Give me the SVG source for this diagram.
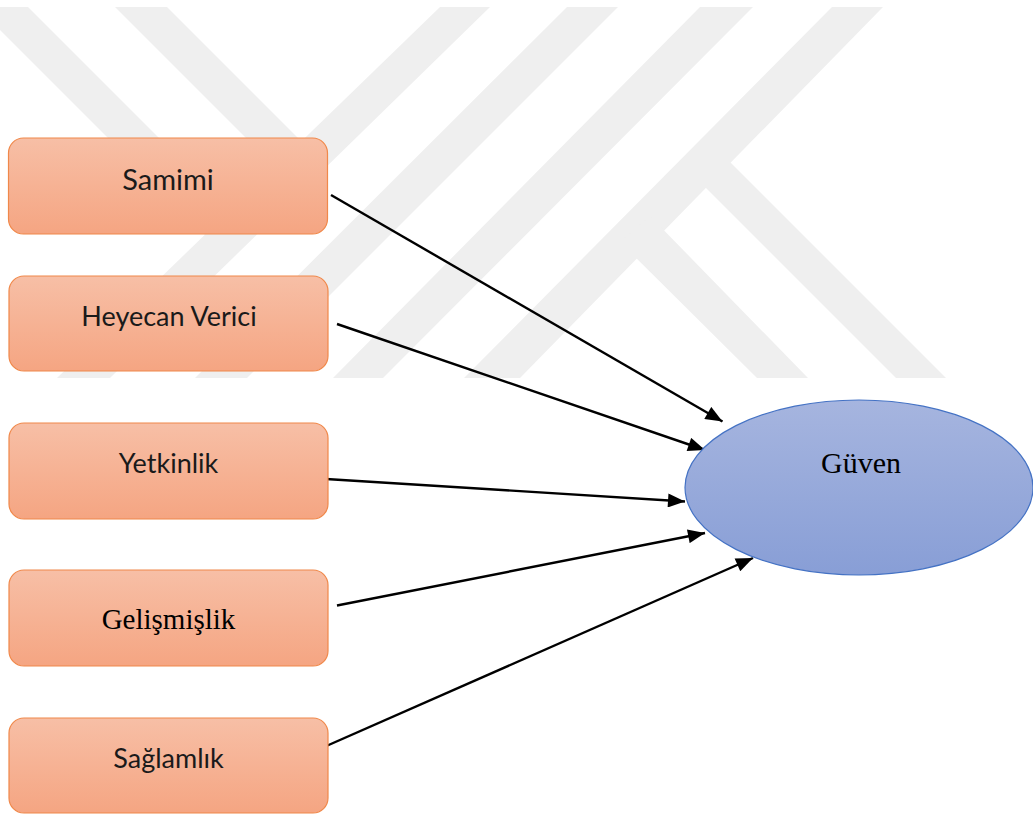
<svg xmlns="http://www.w3.org/2000/svg" width="1033" height="814" viewBox="0 0 1033 814">
  <defs>
    <linearGradient id="boxGrad" x1="0" y1="0" x2="0" y2="1">
      <stop offset="0" stop-color="#f7bfa6"/>
      <stop offset="1" stop-color="#f5a582"/>
    </linearGradient>
    <linearGradient id="ellGrad" x1="0" y1="0" x2="0" y2="1">
      <stop offset="0" stop-color="#a6b5df"/>
      <stop offset="1" stop-color="#889ed6"/>
    </linearGradient>
    <marker id="arrow" markerUnits="userSpaceOnUse" markerWidth="18" markerHeight="14" viewBox="0 0 17 14" refX="17" refY="7" orient="auto">
      <path d="M0,0 L17,7 L0,14 z" fill="#000"/>
    </marker>
    <style>
      .wm { fill: #efefef; stroke: none; }
      .box { fill: url(#boxGrad); stroke: #f0884a; stroke-width: 1.2; }
      .lbl { font-family: Lato, "Open Sans", sans-serif; font-size: 27px; fill: #1a1a1a; text-anchor: middle; }
      .serif { font-family: "Liberation Serif", "Times New Roman", serif; font-size: 29px; fill: #000; text-anchor: middle; }
      .conn { stroke: #000; stroke-width: 2.4; fill: none; marker-end: url(#arrow); }
    </style>
  </defs>

  <rect x="0" y="0" width="1033" height="814" fill="#ffffff"/>

  <!-- watermark -->
  <g id="watermark">
    <polygon class="wm" points="-23,7 28,7 235,214 210,240"/>
    <polygon class="wm" points="115,7 167,7 310,150 284,176"/>
    <polygon class="wm" points="440,7 490,7 110,378 57,378"/>
    <polygon class="wm" points="567,7 618,7 247,378 195,378"/>
    <polygon class="wm" points="700,7 753,7 383,378 333,378"/>
    <polygon class="wm" points="832,7 883,7 520,378 464,378"/>
    <polygon class="wm" points="715,147 946,378 896,378 690,172"/>
    <polygon class="wm" points="650,216 808,378 757,378 620,242"/>
  </g>

  <!-- connectors -->
  <g id="connectors">
    <line class="conn" x1="331" y1="195" x2="722.5" y2="421.5"/>
    <line class="conn" x1="337" y1="324" x2="705" y2="450"/>
    <line class="conn" x1="326" y1="479" x2="685" y2="501.5"/>
    <line class="conn" x1="337" y1="605.5" x2="705" y2="533"/>
    <line class="conn" x1="319.5" y1="749" x2="753" y2="558"/>
  </g>

  <g id="node-samimi">
    <rect class="box" x="8.5" y="138" width="319" height="96" rx="15" ry="15"/>
    <text class="lbl" x="168" y="189.5" style="font-size:29px">Samimi</text>
  </g>
  <g id="node-heyecan">
    <rect class="box" x="9" y="276" width="319" height="95" rx="15" ry="15"/>
    <text class="lbl" x="169" y="326">Heyecan Verici</text>
  </g>
  <g id="node-yetkinlik">
    <rect class="box" x="9" y="423" width="319" height="96" rx="15" ry="15"/>
    <text class="lbl" x="168.5" y="473">Yetkinlik</text>
  </g>
  <g id="node-gelismislik">
    <rect class="box" x="9" y="570" width="319" height="96" rx="15" ry="15"/>
    <text class="serif" x="168.5" y="629">Gelişmişlik</text>
  </g>
  <g id="node-saglamlik">
    <rect class="box" x="9" y="718" width="319" height="95" rx="15" ry="15"/>
    <text class="lbl" x="168.5" y="768">Sağlamlık</text>
  </g>

  <g id="node-guven">
    <ellipse cx="859" cy="487.5" rx="174" ry="87.5" fill="url(#ellGrad)" stroke="#4472c4" stroke-width="1.2"/>
    <text class="serif" x="861" y="473" style="font-size:30px">Güven</text>
  </g>
</svg>
